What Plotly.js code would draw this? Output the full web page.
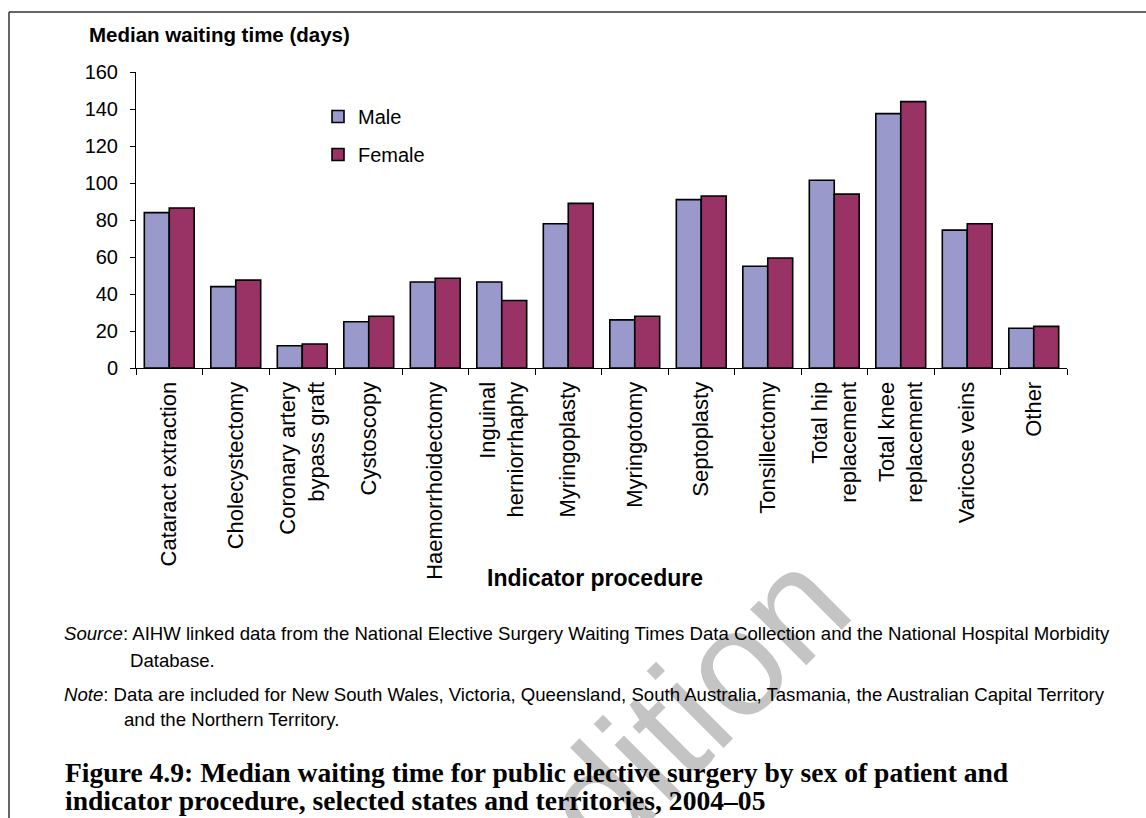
<!DOCTYPE html>
<html>
<head>
<meta charset="utf-8">
<script src="https://cdn.plot.ly/plotly-3.0.1.min.js"></script>
<style>
html,body{margin:0;padding:0;background:#fff;}
#chart{width:1146px;height:818px;}
</style>
</head>
<body>
<div id="chart"></div>
<script>
const categories = [
  "Cataract extraction",
  "Cholecystectomy",
  "Coronary artery<br>bypass graft",
  "Cystoscopy",
  "Haemorrhoidectomy",
  "Inguinal<br>herniorrhaphy",
  "Myringoplasty",
  "Myringotomy",
  "Septoplasty",
  "Tonsillectomy",
  "Total hip<br>replacement",
  "Total knee<br>replacement",
  "Varicose veins",
  "Other"
];
const maleValues   = [84, 44, 12, 25, 46.5, 46.5, 78, 26, 91, 55, 101.5, 137.5, 74.5, 21.5];
const femaleValues = [86.5, 47.5, 13, 28, 48.5, 36.5, 89, 28, 93, 59.5, 94, 144, 78, 22.5];
const seriesNames = ["Male", "Female"];
const yTicks = [0, 20, 40, 60, 80, 100, 120, 140, 160];

const L = 136, R = 1067, T = 72, B = 368, W = 1146, H = 818;
const px = x => (x - L) / (R - L);
const py = y => 1 - (y - T) / (B - T);
const FONT = "Liberation Sans, Arial, sans-serif";
const SERIF = "Liberation Serif, Times New Roman, serif";

const traces = [
  {type: "bar", name: seriesNames[0], x: categories, y: maleValues, legendgroup: "m",
   marker: {color: "#9999cc", line: {color: "#000", width: 1.6}}},
  {type: "bar", name: seriesNames[1], x: categories, y: femaleValues, legendgroup: "f",
   marker: {color: "#993366", line: {color: "#000", width: 1.6}}}
];

function ann(text, x, y, size, opts) {
  return Object.assign({text: text, xref: "paper", yref: "paper", x: px(x), y: py(y),
    xanchor: "left", yanchor: "middle", showarrow: false,
    font: {family: FONT, size: size, color: "#000"}}, opts || {});
}

const annotations = [
  {text: "edition", xref: "paper", yref: "paper", x: px(665), y: py(733),
   xanchor: "center", yanchor: "middle", showarrow: false, textangle: -45,
   font: {family: FONT, size: 150, color: "#c4c4c4"}},
  ann("<b>Median waiting time (days)</b>", 87, 34, 20.5),
  ann("<b>Indicator procedure</b>", 595, 578, 23, {xanchor: "center"}),
  ann("<i>Source</i>: AIHW linked data from the National Elective Surgery Waiting Times Data Collection and the National Hospital Morbidity", 62, 633, 18.6),
  ann("Database.", 128, 660, 18.6),
  ann("<i>Note</i>: Data are included for New South Wales, Victoria, Queensland, South Australia, Tasmania, the Australian Capital Territory", 62, 694, 18.6),
  ann("and the Northern Territory.", 122, 719, 18.6),
  ann("<b>Figure 4.9: Median waiting time for public elective surgery by sex of patient and</b>", 63, 772, 27.6,
      {font: {family: SERIF, size: 27.6, color: "#000"}}),
  ann("<b>indicator procedure, selected states and territories, 2004–05</b>", 63, 800, 27.6,
      {font: {family: SERIF, size: 27.6, color: "#000"}})
];

const shapes = [
  {type: "line", xref: "paper", yref: "paper", x0: px(9), x1: px(9), y0: py(12), y1: py(830),
   line: {color: "#333", width: 1.5}},
  {type: "line", xref: "paper", yref: "paper", x0: px(9), x1: px(1150), y0: py(12), y1: py(12),
   line: {color: "#333", width: 1.5}}
];

const layout = {
  width: W, height: H,
  margin: {l: L, r: W - R, t: T, b: H - B, pad: 0},
  paper_bgcolor: "#fff", plot_bgcolor: "#fff",
  font: {family: FONT, size: 20, color: "#000"},
  barmode: "group", bargap: 0.25, bargroupgap: 0,
  showlegend: true,
  legend: {x: px(318), y: py(97), xanchor: "left", yanchor: "top",
           font: {family: FONT, size: 20, color: "#000"},
           tracegroupgap: 9, bgcolor: "rgba(0,0,0,0)", traceorder: "grouped"},
  xaxis: {type: "category", showgrid: false, zeroline: false,
          showline: true, linecolor: "#000", linewidth: 1,
          ticks: "outside", tickson: "boundaries", ticklen: 6, tickcolor: "#000",
          tickangle: -90, ticklabelstandoff: 4,
          tickfont: {family: FONT, size: 22, color: "#000"},
          automargin: false},
  yaxis: {range: [0, 160], tickvals: yTicks, showgrid: false, zeroline: false,
          showline: true, linecolor: "#000", linewidth: 1,
          ticks: "outside", ticklen: 5, tickcolor: "#000", ticklabelstandoff: 8,
          tickfont: {family: FONT, size: 20, color: "#000"}, automargin: false},
  annotations: annotations,
  shapes: shapes
};

Plotly.newPlot("chart", traces, layout, {displayModeBar: false, staticPlot: true});
</script>
</body>
</html>
